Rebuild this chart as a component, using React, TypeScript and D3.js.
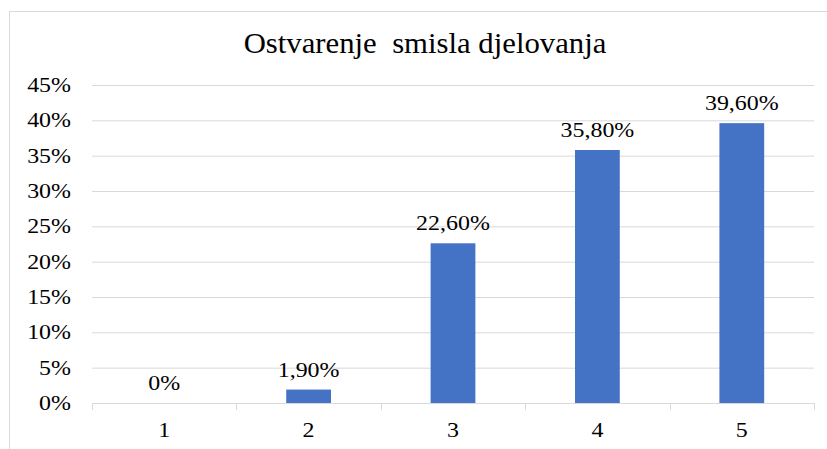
import React from "react";
import * as d3 from "d3";

const categories = ["1", "2", "3", "4", "5"];
const values = [0, 1.9, 22.6, 35.8, 39.6];
const valueLabels = ["0%", "1,90%", "22,60%", "35,80%", "39,60%"];
const yTicks = [0, 5, 10, 15, 20, 25, 30, 35, 40, 45];
const title = "Ostvarenje  smisla djelovanja";

const font = "'Liberation Serif', Tinos, 'Times New Roman', serif";

function T({ x, y, anchor, size, sx, children }: { x: number; y: number; anchor: string; size: number; sx: number; children: React.ReactNode }) {
  return (
    <text
      transform={`translate(${x},${y}) scale(${sx},1)`}
      textAnchor={anchor}
      style={{ fontFamily: font, whiteSpace: "pre" }}
      fontSize={size}
      fill="#000"
    >
      {children}
    </text>
  );
}

export default function App() {
  const W = 827, H = 449;
  const left = 92, right = 814, top = 85, bottom = 403;
  const x = d3.scaleBand<string>().domain(categories).range([left, right]).paddingInner(0.69).paddingOuter(0.345);
  const xb = d3.scaleBand<string>().domain(categories).range([left, right]);
  const y = d3.scaleLinear().domain([0, 45]).range([bottom, top]);
  const LS = 21, LX = 1.14;
  return (
    <svg width={W} height={H} style={{ position: "absolute", left: 0, top: 0 }}>
      <rect x={0} y={0} width={W} height={H} fill="#fff" />
      <rect x={9.5} y={11.5} width={830} height={450} fill="#fff" stroke="#d9d9d9" strokeWidth={1} />
      <T x={425} y={53} anchor="middle" size={29} sx={1.06}>{title}</T>
      {yTicks.map((t) => (
        <g key={t}>
          {t > 0 && <line x1={left} x2={right} y1={y(t) + 0.5} y2={y(t) + 0.5} stroke="#d9d9d9" strokeWidth={1} />}
          <T x={71} y={y(t) + 7} anchor="end" size={LS} sx={LX}>{t}%</T>
        </g>
      ))}
      {categories.map((c, i) => (
        <rect key={c} x={x(c)!} y={y(values[i])} width={x.bandwidth()} height={bottom - y(values[i])} fill="#4472C4" />
      ))}
      <line x1={left} x2={right} y1={bottom + 0.5} y2={bottom + 0.5} stroke="#d9d9d9" strokeWidth={1} />
      {[...categories.map((c) => xb(c)!), right].map((px, i) => (
        <line key={i} x1={Math.round(px) + 0.5} x2={Math.round(px) + 0.5} y1={bottom} y2={bottom + 7} stroke="#d9d9d9" strokeWidth={1} />
      ))}
      {categories.map((c) => (
        <T key={c} x={xb(c)! + xb.bandwidth() / 2} y={437} anchor="middle" size={LS} sx={LX}>{c}</T>
      ))}
      {categories.map((c, i) => (
        <T key={c} x={x(c)! + x.bandwidth() / 2} y={y(values[i]) - 13} anchor="middle" size={LS} sx={LX}>{valueLabels[i]}</T>
      ))}
    </svg>
  );
}
